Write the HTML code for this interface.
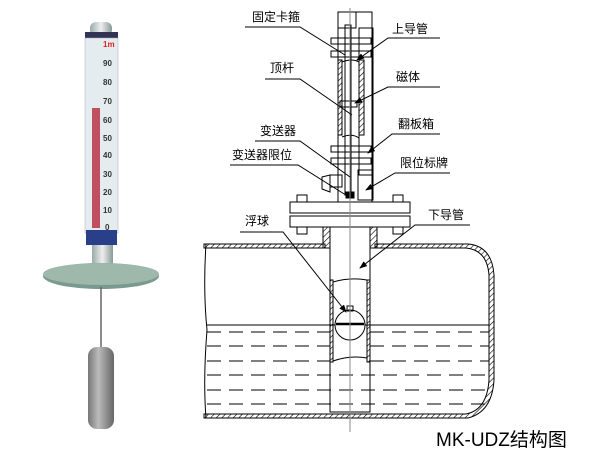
<!DOCTYPE html>
<html><head><meta charset="utf-8"><style>
body{margin:0;background:#fff;width:600px;height:450px;overflow:hidden}
svg text{font-family:"Liberation Sans","Noto Sans CJK SC",sans-serif}
</style></head><body>
<svg width="600" height="450" viewBox="0 0 600 450" xmlns="http://www.w3.org/2000/svg">
<defs>
<pattern id="h" width="4" height="4" patternUnits="userSpaceOnUse" patternTransform="rotate(45)"><line x1="0" y1="0" x2="0" y2="4" stroke="#000" stroke-width="1.2"/></pattern>
<linearGradient id="g1" x1="0" x2="1"><stop offset="0" stop-color="#9aa"/><stop offset=".5" stop-color="#eee"/><stop offset="1" stop-color="#899"/></linearGradient>
<linearGradient id="g2" x1="0" x2="1"><stop offset="0" stop-color="#777"/><stop offset=".4" stop-color="#bbb"/><stop offset="1" stop-color="#666"/></linearGradient>
<marker id="a" markerWidth="8" markerHeight="6" refX="7" refY="3" orient="auto"><path d="M0,0 L8,3 L0,6z" fill="#000"/></marker>
</defs>
<!-- left photo -->
<rect x="90" y="22" width="22" height="14" rx="6" fill="url(#g1)"/>
<rect x="85" y="32" width="33" height="6" fill="#335"/>
<rect x="85" y="38" width="33" height="195" fill="#e4ecf0" stroke="#aab" stroke-width=".5"/>
<rect x="92" y="108" width="8" height="120" fill="#c05060"/>
<g font-size="8" fill="#333" font-weight="bold">
<text x="103" y="47" fill="#d22">1m</text><text x="103" y="66">90</text><text x="103" y="85">80</text><text x="103" y="104">70</text><text x="103" y="123">60</text><text x="103" y="141">50</text><text x="103" y="158">40</text><text x="103" y="177">30</text><text x="103" y="195">20</text><text x="103" y="213">10</text><text x="105" y="230">0</text></g>
<rect x="86" y="230" width="31" height="15" fill="#2a3f8a"/>
<rect x="92" y="245" width="21" height="25" fill="url(#g1)"/>
<ellipse cx="101" cy="276" rx="58" ry="13" fill="#7a9a8e"/>
<ellipse cx="101" cy="274" rx="58" ry="11" fill="#9fb8ac"/>
<line x1="101" y1="287" x2="101" y2="350" stroke="#666" stroke-width="1.5"/>
<rect x="88" y="347" width="26" height="82" rx="9" fill="url(#g2)"/>
<!-- tank -->
<g stroke="#000" fill="none" stroke-width="1">
<path d="M204,244 L325,244 L325,248 L204,248Z" fill="url(#h)"/>
<path d="M375,244 L468,244 Q492,246 494,275 L494,380 Q492,412 468,418 L204,418 L204,414 L466,414 Q487,410 489,380 L489,275 Q487,250 466,248 L375,248Z" fill="url(#h)"/>
<path d="M206,244 Q203,290 207,330 Q203,380 206,418"/>
<rect x="323" y="226" width="7" height="22" fill="url(#h)"/>
<rect x="370" y="226" width="7" height="22" fill="url(#h)"/>
<rect x="330" y="226" width="40" height="186" fill="#fff"/>
<rect x="330" y="280" width="3" height="82" fill="url(#h)"/><rect x="367" y="280" width="3" height="82" fill="url(#h)"/>
<path d="M333,282 Q350,277 367,280"/><path d="M333,361 Q350,355 367,358"/>
<line x1="207" y1="325" x2="489" y2="325"/>
<g stroke-dasharray="14,8"><line x1="207" y1="332" x2="330" y2="332"/><line x1="370" y1="332" x2="489" y2="332"/>
<line x1="207" y1="346" x2="330" y2="346"/><line x1="370" y1="346" x2="489" y2="346"/>
<line x1="207" y1="361" x2="330" y2="361"/><line x1="370" y1="361" x2="489" y2="361"/>
<line x1="207" y1="375" x2="489" y2="375"/><line x1="207" y1="390" x2="489" y2="390"/><line x1="207" y1="404" x2="489" y2="404"/></g>
<circle cx="350" cy="325" r="15" fill="#fff"/>
<line x1="336" y1="324" x2="364" y2="324" stroke-width="2.5"/>
<rect x="347" y="306" width="6" height="5"/><line x1="350" y1="285" x2="350" y2="306"/>
<!-- flange -->
<rect x="290" y="202" width="120" height="11" fill="#fff"/><rect x="290" y="216" width="120" height="11" fill="#fff"/>
<line x1="300" y1="213" x2="400" y2="213"/><line x1="300" y1="216" x2="400" y2="216"/>
<rect x="297" y="195" width="10" height="7"/><rect x="393" y="195" width="10" height="7"/>
<rect x="297" y="227" width="10" height="7"/><rect x="393" y="227" width="10" height="7"/>
<!-- upper -->
<rect x="338" y="12" width="34" height="190" fill="#fff"/>
<rect x="338" y="12" width="18" height="16"/>
<rect x="359" y="28" width="14" height="147"/>
<rect x="359" y="60" width="5" height="75" fill="url(#h)"/>
<rect x="338" y="60" width="4" height="75" fill="url(#h)"/>
<path d="M342,62 Q352,58 359,62"/><path d="M342,137 Q352,133 359,138"/>
<rect x="345" y="25" width="6" height="170"/>
<rect x="340" y="101" width="17" height="6"/>
<rect x="331" y="38" width="40" height="6"/><rect x="331" y="51" width="40" height="6"/>
<rect x="331" y="146" width="40" height="6"/><rect x="331" y="158" width="40" height="6"/>
<rect x="358" y="170" width="15" height="30"/>
<rect x="330" y="175" width="12" height="12"/><path d="M322,177 L330,175 L330,192 L322,189Z"/>
<rect x="346" y="192" width="8" height="6" fill="#000"/>
</g>
<line x1="350" y1="8" x2="350" y2="432" stroke="#888" stroke-width="1"/>
<!-- labels -->
<g stroke="#000" stroke-width="1" fill="none">
<polyline points="245,27 300,27 345,55"/>
<polyline points="440,38 388,38 357,60" marker-end="url(#a)"/>
<polyline points="265,79 300,79 352,115"/>
<polyline points="440,87 388,87 355,103" marker-end="url(#a)"/>
<polyline points="440,134 392,134 368,153" marker-end="url(#a)"/>
<polyline points="255,141 300,141 350,177"/>
<polyline points="230,165 298,165 349,197"/>
<polyline points="450,173 395,173 366,190" marker-end="url(#a)"/>
<polyline points="240,232 283,232 346,312" marker-end="url(#a)"/>
<polyline points="470,225 415,225 360,268" marker-end="url(#a)"/>
</g>
<g font-size="12" fill="#000">
<text x="252" y="21">固定卡箍</text><text x="392" y="33">上导管</text>
<text x="270" y="72">顶杆</text><text x="396" y="81">磁体</text>
<text x="398" y="128">翻板箱</text><text x="260" y="135">变送器</text>
<text x="232" y="159">变送器限位</text><text x="400" y="167">限位标牌</text>
<text x="245" y="225">浮球</text><text x="428" y="219">下导管</text>
</g>
<text x="436" y="446" font-size="19" fill="#000">MK-UDZ结构图</text>
</svg>
</body></html>
